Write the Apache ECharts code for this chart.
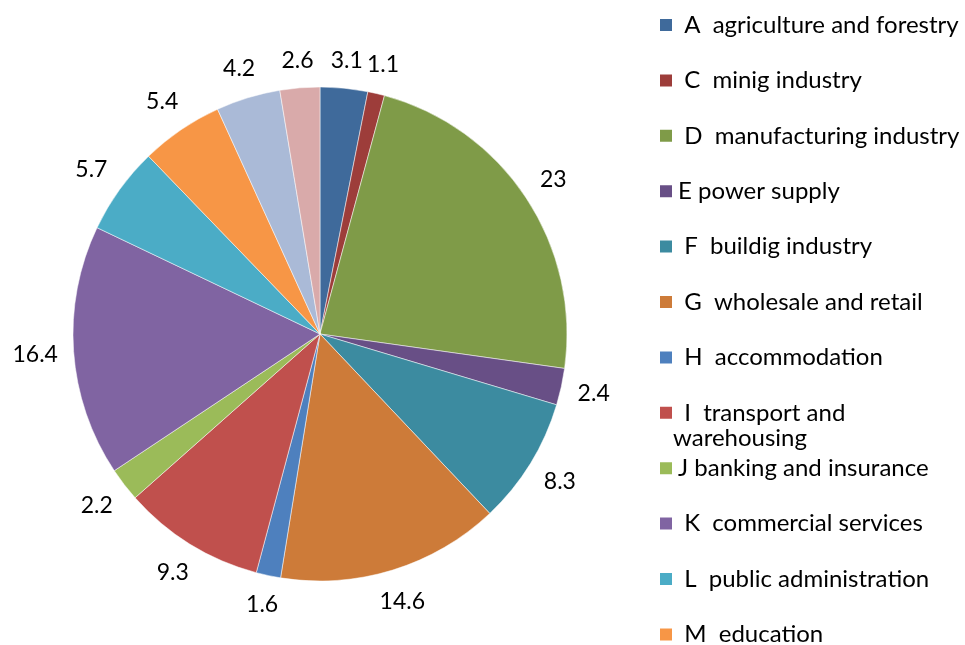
<!DOCTYPE html>
<html lang="en">
<head>
    <meta charset="UTF-8" />
    <title>Industry pie</title>
    <script src="https://cdn.jsdelivr.net/npm/echarts@6/dist/echarts.min.js"></script>
    <style type="text/css">
        html, body { margin: 0; padding: 0; background: #fff; }
        #pieChart { width: 965px; height: 645px; }
    </style>
</head>
<body>
    <div id="pieChart"></div>
    <script type="text/javascript">
        // industry names (legend only shows A..M, the last two slices are unlabeled in the source)
        var categories = [
            'A  agriculture and forestry', 'C  minig industry', 'D  manufacturing industry',
            'E power supply', 'F  buildig industry', 'G  wholesale and retail',
            'H  accommodation', 'I  transport and', 'J banking and insurance',
            'K  commercial services', 'L  public administration', 'M  education',
            'N', 'O'
        ];
        var values = [3.1, 1.1, 23, 2.4, 8.3, 14.6, 1.6, 9.3, 2.2, 16.4, 5.7, 5.4, 4.2, 2.6];
        var colors = ['#3f6a9b', '#9d3d3a', '#7f9b48', '#684f86', '#3c8ba0', '#cd7b39', '#4e80be',
                      '#c0504d', '#9bbb59', '#8064a2', '#4bacc6', '#f79646', '#aabad7', '#d9aaaa'];
        var legendNames = categories.slice(0, 12);

        var CX = 320, CY = 334, R = 247, GAP = 15;
        var total = values.reduce(function (a, b) { return a + b; }, 0);

        // mid angle of each slice (clockwise from 12 o'clock)
        var midAngles = [];
        var acc = 0;
        values.forEach(function (v) {
            midAngles.push((acc + v / 2) / total * Math.PI * 2);
            acc += v;
        });

        var chart = echarts.init(document.getElementById('pieChart'));
        var font = 'Lato, "Open Sans", sans-serif';
        var option = {
            backgroundColor: '#fff',
            animation: false,
            legend: {
                orient: 'vertical',
                left: 653,
                top: 8,
                height: 800,
                itemWidth: 14,
                itemHeight: 14,
                itemGap: 31.4,
                icon: 'rect',
                data: legendNames,
                formatter: function (name) {
                    return name.charAt(0) === 'J' || name.charAt(0) === 'E' ? name : ' ' + name;
                },
                textStyle: { fontFamily: font, fontSize: 24, color: '#000', lineHeight: 24 }
            },
            graphic: [{
                type: 'text',
                left: 673,
                top: 426,
                style: { text: 'warehousing', fontFamily: font, fontSize: 24, fill: '#000' }
            }],
            series: [{
                type: 'pie',
                center: [CX, CY],
                radius: [0, R],
                startAngle: 90,
                clockwise: true,
                avoidLabelOverlap: false,
                color: colors,
                itemStyle: { borderColor: '#fff', borderWidth: 0.5 },
                label: {
                    show: true,
                    position: 'outside',
                    formatter: '{c}',
                    fontFamily: font,
                    fontSize: 23,
                    color: '#000'
                },
                labelLine: { show: false },
                labelLayout: function (params) {
                    var a = midAngles[params.dataIndex];
                    var hw = params.labelRect.width / 2, hh = params.labelRect.height / 2;
                    var s = Math.sin(a), c = Math.cos(a);
                    var d = R + GAP + hw * Math.abs(s) + hh * Math.abs(c);
                    return {
                        x: CX + d * s,
                        y: CY - d * c,
                        align: 'center',
                        verticalAlign: 'middle'
                    };
                },
                data: categories.map(function (n, i) { return { name: n, value: values[i] }; })
            }]
        };
        chart.setOption(option);
    </script>
</body>
</html>
